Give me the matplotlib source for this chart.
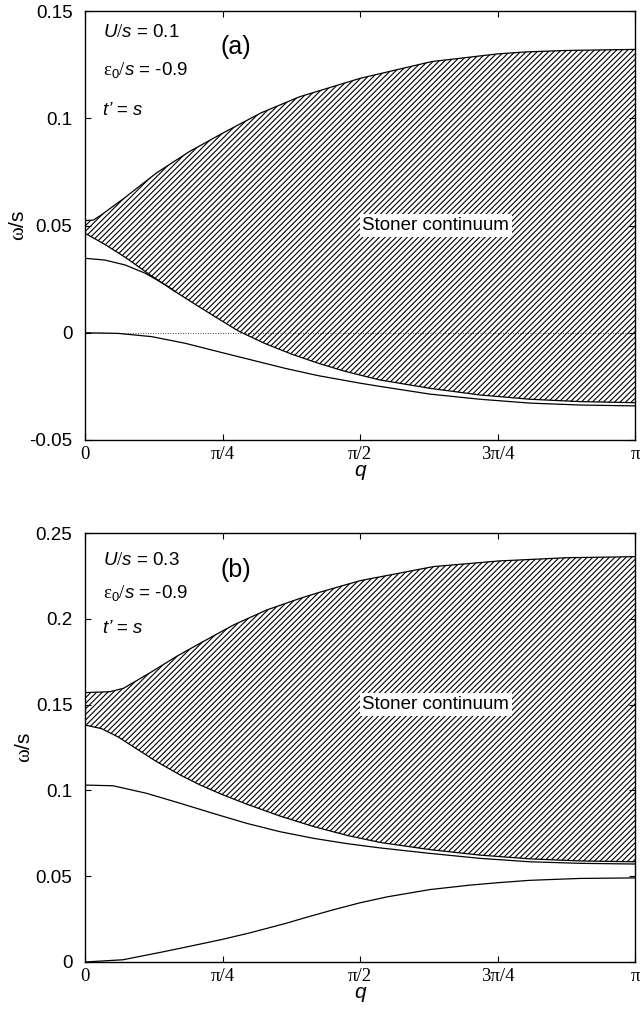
import numpy as np
import matplotlib
matplotlib.use('Agg')
import matplotlib.pyplot as plt

plt.rcParams['font.family'] = ['Liberation Sans', 'DejaVu Sans']
plt.rcParams['mathtext.fontset'] = 'custom'
plt.rcParams['mathtext.rm'] = 'Liberation Serif'
plt.rcParams['mathtext.it'] = 'Liberation Sans:italic'
plt.rcParams['mathtext.sf'] = 'Liberation Sans'
plt.rcParams['hatch.linewidth'] = 0.8

# ---------------- data (q in units of pi) ----------------
# panel (a): U/s = 0.1
qa_up = [0, 0.015, 0.03, 0.07, 0.13, 0.19, 0.25, 0.32, 0.39, 0.5, 0.63, 0.75, 0.8,
         0.875, 1.0]
wa_up = [0.0523, 0.0525, 0.0550, 0.0625, 0.0745, 0.0845, 0.0930, 0.1025, 0.1100,
         0.1186, 0.1264, 0.1300, 0.1309, 0.1316, 0.1321]
qa_lo = [0, 0.036, 0.073, 0.1, 0.121, 0.164, 0.2, 0.242, 0.279, 0.327, 0.376, 0.424,
         0.473, 0.536, 0.627, 0.718, 0.809, 0.9, 1.0]
wa_lo = [0.0464, 0.0412, 0.0352, 0.0303, 0.0265, 0.0192, 0.0133, 0.0066, 0.0008,
         -0.0050, -0.0100, -0.0142, -0.0180, -0.0220, -0.0259, -0.0290, -0.0310,
         -0.0321, -0.0326]
qa_m1 = [0, 0.036, 0.073, 0.109, 0.127, 0.145, 0.164]
wa_m1 = [0.0347, 0.0339, 0.0316, 0.0278, 0.0252, 0.0225, 0.0192]
qa_g = [0, 0.06, 0.121, 0.182, 0.242, 0.303, 0.364, 0.424, 0.5, 0.536, 0.627,
        0.718, 0.809, 0.9, 1.0]
wa_g = [0.0, -0.0003, -0.0018, -0.0049, -0.0088, -0.0127, -0.0166, -0.0200,
        -0.0235, -0.0250, -0.0286, -0.0310, -0.0328, -0.0337, -0.0341]

# panel (b): U/s = 0.3
qb_up = [0, 0.045, 0.07, 0.118, 0.166, 0.209, 0.27, 0.33, 0.391, 0.427, 0.5,
         0.633, 0.752, 0.876, 1.0]
wb_up = [0.157, 0.1575, 0.1595, 0.1685, 0.178, 0.1857, 0.1964, 0.2051, 0.2119,
         0.2155, 0.2222, 0.2304, 0.2337, 0.2356, 0.2362]
qb_lo = [0, 0.03, 0.06, 0.09, 0.13, 0.173, 0.209, 0.25, 0.294, 0.355, 0.415, 0.476,
         0.536, 0.627, 0.718, 0.809, 0.9, 1.0]
wb_lo = [0.1381, 0.1360, 0.1312, 0.1250, 0.1168, 0.1090, 0.1032, 0.0975, 0.0920,
         0.0850, 0.0790, 0.0738, 0.0697, 0.0655, 0.0623, 0.0601, 0.0589, 0.0584]
qb_m1 = [0, 0.051, 0.112, 0.173, 0.233, 0.294, 0.355, 0.415, 0.476, 0.536, 0.627,
         0.718, 0.809, 0.9, 1.0]
wb_m1 = [0.1031, 0.1027, 0.0983, 0.0925, 0.0866, 0.0808, 0.0759, 0.0721, 0.0690,
         0.0665, 0.0633, 0.0604, 0.0584, 0.0575, 0.0571]
qb_g = [0, 0.069, 0.143, 0.2, 0.25, 0.3, 0.365, 0.4, 0.45, 0.5, 0.55, 0.627, 0.7,
        0.75, 0.809, 0.9, 1.0]
wb_g = [0.0, 0.0013, 0.0060, 0.0098, 0.0132, 0.0170, 0.0225, 0.0258, 0.0303,
        0.0345, 0.0380, 0.0422, 0.0448, 0.0462, 0.0476, 0.0487, 0.0490]

xtick_vals = [0, 0.25, 0.5, 0.75, 1.0]
xtick_labels = ['0', 'π/4', 'π/2', '3π/4', 'π']
ya_ticks = [-0.05, 0, 0.05, 0.1, 0.15]
ya_labels = ['-0.05', '0', '0.05', '0.1', '0.15']
yb_ticks = [0, 0.05, 0.1, 0.15, 0.2, 0.25]
yb_labels = ['0', '0.05', '0.1', '0.15', '0.2', '0.25']

params_a = ['$U/s$ = 0.1', r'$\mathrm{\varepsilon}_\mathsf{0}/s$ = -0.9', 't’ = s']
params_b = ['$U/s$ = 0.3', r'$\mathrm{\varepsilon}_\mathsf{0}/s$ = -0.9', 't’ = s']

fig = plt.figure(figsize=(6.4, 10.17), dpi=100)
ax_a = fig.add_axes([85/640, 1-440/1017, 550/640, 429/1017])
ax_b = fig.add_axes([85/640, 1-962/1017, 550/640, 429/1017])


def draw(ax, q_up, w_up, q_lo, w_lo, q_m1, w_m1, q_g, w_g, ylim, yticks, ylabels,
         params, tag, ypos, tagpos, stoner_y):
    q_up = np.asarray(q_up) * np.pi
    q_lo = np.asarray(q_lo) * np.pi
    poly_q = np.concatenate([q_up, q_lo[::-1]])
    poly_w = np.concatenate([w_up, np.asarray(w_lo)[::-1]])
    ax.fill(poly_q, poly_w, facecolor='none', edgecolor='black', hatch='//////', lw=0)
    lw = 0.9
    ax.plot(q_up, w_up, color='black', lw=lw)
    ax.plot(q_lo, w_lo, color='black', lw=lw)
    ax.plot(np.asarray(q_m1) * np.pi, w_m1, color='black', lw=lw)
    ax.plot(np.asarray(q_g) * np.pi, w_g, color='black', lw=lw)

    ax.set_xlim(0, np.pi)
    ax.set_ylim(*ylim)
    ax.set_xticks(np.asarray(xtick_vals) * np.pi)
    ax.set_xticklabels(xtick_labels, fontfamily='Liberation Serif', fontsize=13.5)
    ax.set_yticks(yticks)
    ax.set_yticklabels(ylabels, fontsize=13.5)
    ax.tick_params(direction='in', top=True, right=True, length=4, width=0.8)
    ax.tick_params(axis='x', pad=4)
    ax.tick_params(axis='y', pad=9)
    for s in ax.spines.values():
        s.set_linewidth(1.0)
    ax.set_xlabel('q', fontstyle='italic', fontsize=15, labelpad=-1)
    ax.set_ylabel(r'$\mathrm{\omega}$/s', fontsize=15, labelpad=1)

    ax.text(0.033, ypos[0], params[0], transform=ax.transAxes, fontsize=13.5, va='center')
    ax.text(0.033, ypos[1], params[1], transform=ax.transAxes, fontsize=13.5, va='center')
    ax.text(0.033, ypos[2], params[2], transform=ax.transAxes, fontsize=13.5,
            va='center', fontstyle='italic')
    ax.text(0.2455, tagpos, tag, transform=ax.transAxes, fontsize=18, va='center')
    ax.text(0.638 * np.pi, stoner_y, 'Stoner continuum', fontsize=13.5, ha='center',
            va='center', bbox=dict(facecolor='white', edgecolor='none', pad=2))


draw(ax_a, qa_up, wa_up, qa_lo, wa_lo, qa_m1, wa_m1, qa_g, wa_g, (-0.05, 0.15),
     ya_ticks, ya_labels, params_a, '(a)', (0.949, 0.862, 0.769), 0.916, 0.05)
ax_a.axhline(0, color='black', lw=0.6, ls=(0, (1, 2)))

draw(ax_b, qb_up, wb_up, qb_lo, wb_lo, qb_m1, wb_m1, qb_g, wb_g, (0, 0.25),
     yb_ticks, yb_labels, params_b, '(b)', (0.937, 0.86, 0.7785), 0.914, 0.15)

fig.savefig('out.png', dpi=100)
